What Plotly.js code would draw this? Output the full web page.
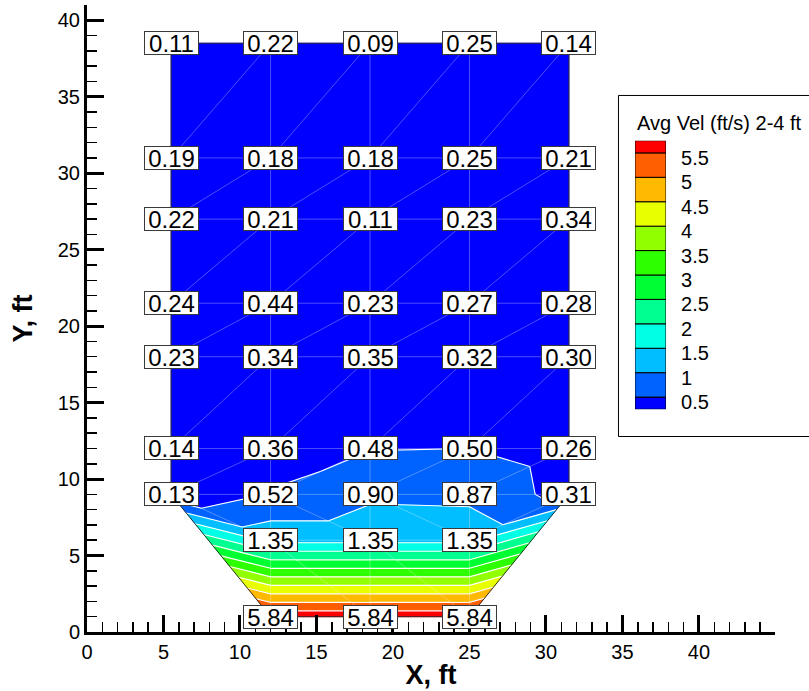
<!DOCTYPE html>
<html><head><meta charset="utf-8">
<script src="https://cdn.plot.ly/plotly-3.0.1.min.js"></script>
<style>html,body{margin:0;padding:0;background:#fff}</style>
</head><body><div id="chart" style="width:809px;height:691px"></div>
<script>
// ---- data ----
const colX = [5.5, 12, 18.5, 25, 31.5];
const rowY = [38.5, 31, 27, 21.5, 18, 12, 9];
const velRows = [
  [0.11, 0.22, 0.09, 0.25, 0.14],
  [0.19, 0.18, 0.18, 0.25, 0.21],
  [0.22, 0.21, 0.11, 0.23, 0.34],
  [0.24, 0.44, 0.23, 0.27, 0.28],
  [0.23, 0.34, 0.35, 0.32, 0.30],
  [0.14, 0.36, 0.48, 0.50, 0.26],
  [0.13, 0.52, 0.90, 0.87, 0.31]
];
const chanX = [12, 18.5, 25];
const chanY = [6, 1];
const chanVel = [
  [1.35, 1.35, 1.35],
  [5.84, 5.84, 5.84]
];
const levels = [0.5, 1, 1.5, 2, 2.5, 3, 3.5, 4, 4.5, 5, 5.5];
const levelLabels = ['0.5', '1', '1.5', '2', '2.5', '3', '3.5', '4', '4.5', '5', '5.5'];
const bandColors = ['rgb(0,0,255)', 'rgb(0,98,255)', 'rgb(0,190,255)', 'rgb(0,255,228)',
  'rgb(0,255,145)', 'rgb(0,255,50)', 'rgb(45,255,0)', 'rgb(145,255,0)',
  'rgb(232,255,0)', 'rgb(255,185,0)', 'rgb(255,95,0)', 'rgb(255,0,0)'];
const legendTitle = 'Avg Vel (ft/s) 2-4 ft';

// ---- build nodes and triangles (mesh topology) ----
const FONT = 'Liberation Sans, Arial, Helvetica, sans-serif';
const nodes = [];
const grid = rowY.map((y, r) => colX.map((x, c) => { nodes.push({x: x, y: y, v: velRows[r][c]}); return nodes.length - 1; }));
const chan = chanY.map((y, r) => chanX.map((x, c) => { nodes.push({x: x, y: y, v: chanVel[r][c]}); return nodes.length - 1; }));
const tris = [];
for (let r = 0; r < rowY.length - 1; r++) {
  for (let c = 0; c < colX.length - 1; c++) {
    const TL = grid[r][c], TR = grid[r][c + 1], BL = grid[r + 1][c], BR = grid[r + 1][c + 1];
    tris.push([BL, BR, TR], [BL, TR, TL]);
  }
}
const T = grid[rowY.length - 1], B0 = chan[0], B1 = chan[1];
const nC = colX.length - 1;
tris.push([T[0], T[1], B0[0]]);
for (let k = 0; k < chanX.length - 1; k++) {
  tris.push([T[k + 1], T[k + 2], B0[k + 1]], [T[k + 1], B0[k + 1], B0[k]]);
}
tris.push([T[nC - 1], T[nC], B0[chanX.length - 1]]);
tris.push([T[0], B0[0], B1[0]]);
for (let k = 0; k < chanX.length - 1; k++) {
  tris.push([B0[k], B0[k + 1], B1[k + 1]], [B0[k], B1[k + 1], B1[k]]);
}
tris.push([T[nC], B0[chanX.length - 1], B1[chanX.length - 1]]);

// ---- filled bands (clip each triangle to each level interval) ----
function clip(poly, lev, above) {
  const out = [];
  for (let i = 0; i < poly.length; i++) {
    const a = poly[i], b = poly[(i + 1) % poly.length];
    const ain = above ? a.v >= lev : a.v <= lev;
    const bin = above ? b.v >= lev : b.v <= lev;
    if (ain) out.push(a);
    if (ain !== bin) {
      const t = (lev - a.v) / (b.v - a.v);
      out.push({x: a.x + t * (b.x - a.x), y: a.y + t * (b.y - a.y), v: lev});
    }
  }
  return out;
}
const traces = [];
bandColors.forEach((col, i) => {
  const lo = i === 0 ? -Infinity : levels[i - 1];
  const hi = i === levels.length ? Infinity : levels[i];
  const xs = [], ys = [];
  tris.forEach(tri => {
    let p = tri.map(n => nodes[n]);
    if (lo > -Infinity) p = clip(p, lo, true);
    if (p.length >= 3 && hi < Infinity) p = clip(p, hi, false);
    if (p.length >= 3) {
      p.forEach(q => { xs.push(q.x); ys.push(q.y); });
      xs.push(p[0].x); ys.push(p[0].y);
      xs.push(null); ys.push(null);
    }
  });
  traces.push({type: 'scatter', mode: 'lines', x: xs, y: ys, fill: 'toself', fillcolor: col,
    line: {color: col, width: 0.8}, connectgaps: false, hoverinfo: 'skip', showlegend: false});
});

// ---- mesh lines ----
const seen = {};
const mx = [], my = [];
tris.forEach(tri => {
  for (let i = 0; i < 3; i++) {
    const a = tri[i], b = tri[(i + 1) % 3];
    const key = Math.min(a, b) + '_' + Math.max(a, b);
    if (seen[key]) continue;
    seen[key] = 1;
    mx.push(nodes[a].x, nodes[b].x, null); my.push(nodes[a].y, nodes[b].y, null);
  }
});
traces.push({type: 'scatter', mode: 'lines', x: mx, y: my, line: {color: 'rgba(255,255,255,0.38)', width: 0.8},
  hoverinfo: 'skip', showlegend: false});

// ---- contour lines ----
const cx = [], cy = [];
levels.forEach(L => {
  tris.forEach(tri => {
    const pts = [];
    for (let i = 0; i < 3; i++) {
      const a = nodes[tri[i]], b = nodes[tri[(i + 1) % 3]];
      if ((a.v < L) !== (b.v < L)) {
        const t = (L - a.v) / (b.v - a.v);
        pts.push([a.x + t * (b.x - a.x), a.y + t * (b.y - a.y)]);
      }
    }
    if (pts.length === 2) { cx.push(pts[0][0], pts[1][0], null); cy.push(pts[0][1], pts[1][1], null); }
  });
});
traces.push({type: 'scatter', mode: 'lines', x: cx, y: cy, line: {color: '#ffffff', width: 1.1},
  hoverinfo: 'skip', showlegend: false});

// ---- domain boundary ----
const bnd = [];
grid[0].forEach(n => bnd.push(n));
for (let r = 1; r < rowY.length; r++) bnd.push(grid[r][nC]);
for (let k = chanX.length - 1; k >= 0; k--) bnd.push(chan[1][k]);
for (let r = rowY.length - 1; r >= 0; r--) bnd.push(grid[r][0]);
traces.push({type: 'scatter', mode: 'lines', x: bnd.map(n => nodes[n].x), y: bnd.map(n => nodes[n].y),
  line: {color: '#000000', width: 0.8}, hoverinfo: 'skip', showlegend: false});

// ---- legend bars (secondary axes) ----
const legBase = bandColors.map((c, i) => i === 0 ? levels[0] - 0.25 : levels[i - 1]);
const legH = bandColors.map((c, i) => (i === 0 || i === levels.length) ? 0.25 : levels[i] - levels[i - 1]);
traces.push({type: 'bar', x: bandColors.map(() => 0), y: legH, base: legBase, width: 1,
  marker: {color: bandColors, line: {color: '#000', width: 1}}, xaxis: 'x2', yaxis: 'y2',
  hoverinfo: 'skip', showlegend: false});

// ---- node labels ----
const annotations = [];
nodes.forEach(n => {
  annotations.push({x: n.x, y: n.y, xref: 'x', yref: 'y', text: n.v.toFixed(2), showarrow: false,
    font: {family: FONT, size: 24, color: '#000'}, bgcolor: '#ffffff', bordercolor: '#3a3a3a',
    borderwidth: 1, borderpad: 0, width: 53, height: 22, xanchor: 'center', yanchor: 'middle'});
});
annotations.push({x: 0.7965, y: 0.812, xref: 'paper', yref: 'paper', text: legendTitle, showarrow: false,
  xanchor: 'left', yanchor: 'middle', font: {family: FONT, size: 20, color: '#000'}});

const layout = {
  width: 809, height: 691,
  margin: {l: 87, r: 34, t: 5, b: 59, pad: 0},
  paper_bgcolor: '#fff', plot_bgcolor: '#fff',
  showlegend: false, barmode: 'overlay',
  font: {family: FONT, color: '#000'},
  xaxis: {range: [0, 44.97], showline: true, linewidth: 3, linecolor: '#000', ticks: 'inside',
    ticklen: 17, tickwidth: 3, tickcolor: '#000', tick0: 0, dtick: 5, showgrid: false, zeroline: false,
    tickfont: {family: FONT, size: 20, color: '#000'},
    minor: {ticks: 'inside', ticklen: 10, tickwidth: 1.5, dtick: 1, tick0: 0, tickcolor: '#000', showgrid: false},
    title: {text: 'X, ft', font: {family: FONT, size: 27, color: '#000', weight: 'bold'}, standoff: 4}},
  yaxis: {range: [0, 41], showline: true, linewidth: 3, linecolor: '#000', ticks: 'inside',
    ticklen: 17, tickwidth: 3, tickcolor: '#000', tick0: 0, dtick: 5, showgrid: false, zeroline: false,
    tickfont: {family: FONT, size: 20, color: '#000'},
    minor: {ticks: 'inside', ticklen: 10, tickwidth: 1.5, dtick: 1, tick0: 0, tickcolor: '#000', showgrid: false},
    title: {text: 'Y, ft', font: {family: FONT, size: 27, color: '#000', weight: 'bold'}, standoff: 18}},
  xaxis2: {domain: [0.7965, 0.8416], range: [-0.5, 0.5], anchor: 'y2', visible: false, fixedrange: true},
  yaxis2: {domain: [0.3552, 0.7836], range: [0.25, 5.75], anchor: 'x2', side: 'right',
    showline: false, showgrid: false, zeroline: false, ticks: '', tickvals: levels, ticktext: levelLabels,
    tickfont: {family: FONT, size: 20, color: '#000'}, ticklabelstandoff: 14, ticklabelshift: 5},
  shapes: [{type: 'rect', xref: 'paper', yref: 'paper', x0: 0.7725, x1: 1.2, y0: 0.3118, y1: 0.8557,
    line: {color: '#000', width: 1}, fillcolor: '#fff', layer: 'below'}],
  annotations: annotations
};
Plotly.newPlot('chart', traces, layout, {staticPlot: true, displayModeBar: false});
</script></body></html>
